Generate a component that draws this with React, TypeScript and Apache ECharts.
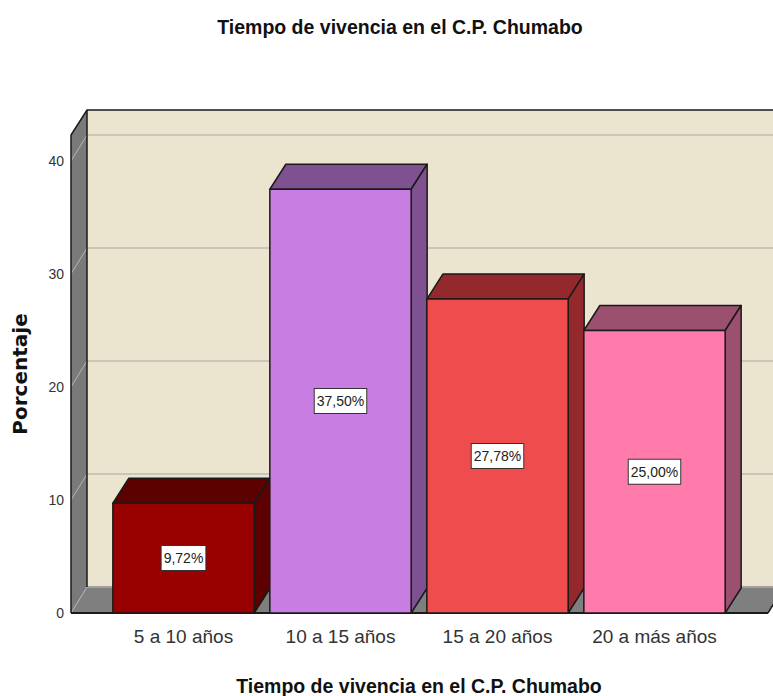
import React, { useEffect, useRef } from "react";
import * as echarts from "echarts";

const TITLE = "Tiempo de vivencia en el C.P. Chumabo";
const Y_NAME = "Porcentaje";
const categories = ["5 a 10 años", "10 a 15 años", "15 a 20 años", "20 a más años"];
const values = [9.72, 37.5, 27.78, 25.0];
const valueLabels = ["9,72%", "37,50%", "27,78%", "25,00%"];
const yTicks = [0, 10, 20, 30, 40];
const frontColors = ["#990000", "#c87de2", "#ef4c4e", "#ff7bac"];
const shadeColors = ["#5c0000", "#7f5190", "#93292c", "#9c5070"];

const DX = 16;
const DY = -25;
const GRID_DY = -26;
const EDGE = "#1a1a1a";

function renderWalls(params: any, api: any) {
  const cs = params.coordSys;
  const left = cs.x - 34;
  const right = cs.x + cs.width + 35;
  const top = cs.y;
  const bottom = cs.y + cs.height;
  const children: any[] = [];
  children.push({
    type: "polygon",
    shape: { points: [[left + DX, top + DY], [right + DX, top + DY], [right + DX, bottom + GRID_DY], [left + DX, bottom + GRID_DY]] },
    style: { fill: "#ebe5d0", stroke: "none" },
  });
  children.push({
    type: "polygon",
    shape: { points: [[left, top], [left + DX, top + DY], [left + DX, bottom + GRID_DY], [left, bottom]] },
    style: { fill: "#7a7a7a", stroke: "none" },
  });
  children.push({
    type: "polygon",
    shape: { points: [[left, bottom], [left + DX, bottom + GRID_DY], [right + DX, bottom + GRID_DY], [right, bottom]] },
    style: { fill: "#7f7f7f", stroke: "none" },
  });
  yTicks.forEach((t) => {
    const y = api.coord([0, t])[1];
    children.push({
      type: "line",
      shape: { x1: left + DX, y1: y + GRID_DY, x2: right + DX, y2: y + GRID_DY },
      style: { stroke: t > 0 ? "#c9c5b8" : "#a3a29c", lineWidth: 2 },
    });
    children.push({
      type: "line",
      shape: { x1: left, y1: y, x2: left + DX, y2: y + GRID_DY },
      style: { stroke: "#b5b5b5", lineWidth: 1 },
    });
  });
  children.push({
    type: "polyline",
    shape: { points: [[left, bottom], [left, top], [left + DX, top + DY], [right + DX, top + DY]] },
    style: { fill: "none", stroke: EDGE, lineWidth: 1.5 },
  });
  children.push({
    type: "line",
    shape: { x1: left + DX, y1: top + DY, x2: left + DX, y2: bottom + GRID_DY },
    style: { stroke: EDGE, lineWidth: 1.5 },
  });
  children.push({
    type: "line",
    shape: { x1: left, y1: bottom, x2: right, y2: bottom },
    style: { stroke: EDGE, lineWidth: 2 },
  });
  children.push({
    type: "line",
    shape: { x1: right, y1: bottom, x2: right + DX, y2: bottom + GRID_DY },
    style: { stroke: EDGE, lineWidth: 1.5 },
  });
  return { type: "group", children };
}

function renderBar(params: any, api: any) {
  const i = api.value(0);
  const v = api.value(1);
  const [cx, yTop] = api.coord([i, v]);
  const yBase = api.coord([i, 0])[1];
  const w = api.size([1, 0])[0] * 0.9;
  const l = cx - w / 2;
  const r = cx + w / 2;
  const stroke = { stroke: EDGE, lineWidth: 1.5, lineJoin: "round" };
  return {
    type: "group",
    children: [
      {
        type: "polygon",
        shape: { points: [[l, yTop], [l + DX, yTop + DY], [r + DX, yTop + DY], [r, yTop]] },
        style: { fill: shadeColors[i], ...stroke },
      },
      {
        type: "polygon",
        shape: { points: [[r, yTop], [r + DX, yTop + DY], [r + DX, yBase + DY], [r, yBase]] },
        style: { fill: shadeColors[i], ...stroke },
      },
      {
        type: "rect",
        shape: { x: l, y: yTop, width: w, height: yBase - yTop },
        style: { fill: frontColors[i], ...stroke },
      },
      {
        type: "text",
        x: cx,
        y: (yTop + yBase) / 2,
        style: {
          text: valueLabels[i],
          font: '14px "Liberation Sans", Arial, sans-serif',
          fill: "#222",
          align: "center",
          verticalAlign: "middle",
          backgroundColor: "#ffffff",
          borderColor: "#333",
          borderWidth: 1,
          padding: [5, 2, 5, 2],
        },
      },
    ],
  };
}

export default function App() {
  const ref = useRef<HTMLDivElement>(null);
  useEffect(() => {
    document.body.style.margin = "0";
    const chart = echarts.init(ref.current!, null, { renderer: "svg" });
    const font = '"Liberation Sans", Arial, sans-serif';
    chart.setOption({
      animation: false,
      backgroundColor: "#ffffff",
      title: {
        text: TITLE,
        left: 395,
        top: 12,
        textAlign: "center",
        textStyle: { fontFamily: font, fontSize: 19.5, fontWeight: "bold", color: "#111" },
      },
      grid: { left: 105, right: 40, top: 135, height: 478, outerBoundsMode: "none" },
      xAxis: {
        type: "category",
        data: categories,
        name: TITLE,
        nameLocation: "middle",
        nameGap: 63,
        nameTextStyle: { fontFamily: font, fontSize: 19.5, fontWeight: "bold", color: "#111" },
        axisLine: { show: false },
        axisTick: { show: false },
        axisLabel: { fontFamily: font, fontSize: 19, color: "#333", margin: 14, interval: 0 },
      },
      yAxis: {
        type: "value",
        min: 0,
        max: 42.3,
        interval: 10,
        name: Y_NAME,
        nameLocation: "middle",
        nameGap: 75,
        nameRotate: 90,
        nameTextStyle: { fontFamily: '"DejaVu Sans", sans-serif', fontSize: 20, fontWeight: "bold", color: "#111" },
        axisLine: { show: false },
        axisTick: { show: false },
        splitLine: { show: false },
        axisLabel: { fontFamily: font, fontSize: 14, color: "#333", margin: 41, showMaxLabel: false },
      },
      series: [
        { type: "custom", clip: false, z: 1, silent: true, renderItem: renderWalls, data: [[0, 0]] },
        {
          type: "custom",
          clip: false,
          z: 2,
          renderItem: renderBar,
          encode: { x: 0, y: 1 },
          data: values.map((v, i) => [i, v]),
        },
      ],
    });
    return () => chart.dispose();
  }, []);
  return <div ref={ref} style={{ width: 773, height: 696 }} />;
}
